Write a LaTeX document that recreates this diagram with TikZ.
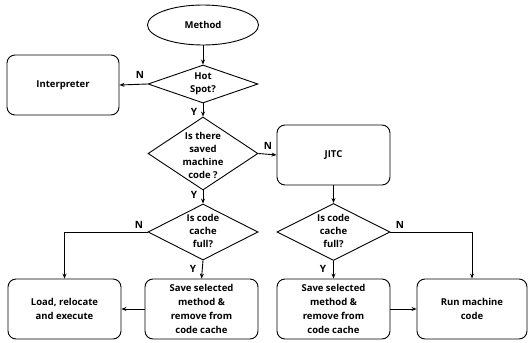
\documentclass[tikz,border=0pt]{standalone}
\usepackage{fontspec}
\setmainfont{Open Sans}
\usetikzlibrary{shapes.geometric,arrows.meta}
\begin{document}
\begin{tikzpicture}[x=1pt,y=-1pt,
  line width=0.9pt,
  txt/.style={font=\fontsize{9.5}{13}\selectfont\bfseries, align=center, inner sep=0pt},
  box/.style={draw, rounded corners=8pt, minimum width=113pt, minimum height=60pt, inner sep=0pt, font=\fontsize{9.5}{14}\selectfont\bfseries, align=center},
  dia/.style={draw, diamond, inner sep=0pt},
  lab/.style={font=\fontsize{10}{10}\selectfont\bfseries, inner sep=0pt},
  arr/.style={-{Stealth[length=5pt,width=4pt]}}
]
\useasboundingbox (0,0) rectangle (528,343);

\node[draw, ellipse, minimum width=111pt, minimum height=40pt, inner sep=0pt, txt] (method) at (203,25) {Method};

\node[dia, minimum width=110pt, minimum height=38pt] (hot) at (203,84) {};
\node[txt] (hott) at (203,84) {Hot\\Spot?};

\node[box, minimum width=112pt] (interp) at (63,85) {Interpreter};

\node[dia, minimum width=110pt, minimum height=73pt] (saved) at (203,153.5) {};
\node[txt] (savedt) at (203,155) {Is there\\saved\\machine\\code ?};

\node[box] (jitc) at (333.5,155) {JITC};

\node[dia, minimum width=110pt, minimum height=56pt] (full1) at (203,232) {};
\node[txt] (full1t) at (203,231) {Is code\\cache\\full?};

\node[dia, minimum width=113pt, minimum height=57pt] (full2) at (333.5,232) {};
\node[txt] (full2t) at (333.5,231) {Is code\\cache\\full?};

\node[box] (load) at (64.5,309) {Load, relocate\\and execute};
\node[box] (save1) at (201.5,309) {Save selected\\method \&\\remove from\\code cache};
\node[box] (save2) at (333.5,309) {Save selected\\method \&\\remove from\\code cache};
\node[box, minimum width=110pt] (run) at (472,309) {Run machine\\code};

\draw[arr] (method) -- (hot);
\draw[arr] (hot.west) -- (interp.east);
\draw[arr] (hot.south) -- (saved.north);
\draw[arr] (saved.east) -- (jitc.west);
\draw[arr] (saved.south) -- (full1.north);
\draw[arr] (full1.west) -| (load.north);
\draw[arr] (full1.south) -- (save1.north);
\draw[arr] (save1.west) -- (load.east);
\draw[arr] (jitc.south) -- (full2.north);
\draw[arr] (full2.east) -| (run.north);
\draw[arr] (full2.south) -- (save2.north);
\draw[arr] (save2.east) -- (run.west);

\node[lab] (n1) at (140,75) {N};
\node[lab] (y1) at (194,112) {Y};
\node[lab] (n2) at (268,146) {N};
\node[lab] (y2) at (194,195) {Y};
\node[lab] (n3) at (139,225) {N};
\node[lab] (y3) at (193,269) {Y};
\node[lab] (n4) at (400,225) {N};
\node[lab] (y4) at (323,269) {Y};
\end{tikzpicture}
\end{document}
